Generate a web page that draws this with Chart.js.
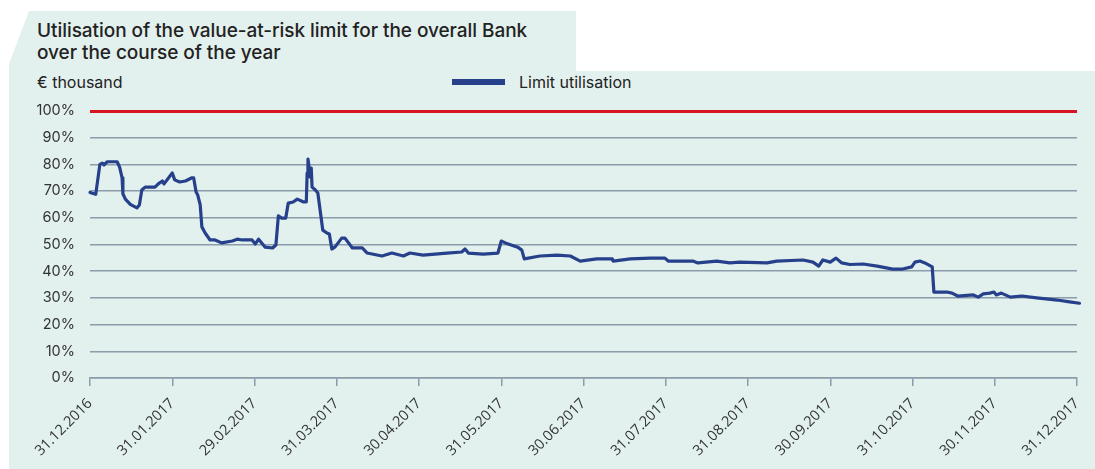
<!DOCTYPE html>
<html>
<head>
<meta charset="utf-8">
<script src="https://cdn.jsdelivr.net/npm/chart.js@4.4.0/dist/chart.umd.min.js"></script>
<style>
  html, body { margin: 0; padding: 0; background: #fff; }
  #wrap { position: relative; width: 1095px; height: 469px; overflow: hidden; font-family: Inter, "Noto Sans", sans-serif; color: #222; }
  #bg { position: absolute; left: 0; top: 0; }
  #title { position: absolute; left: 37px; top: 20px; font-size: 19px; font-weight: 500; line-height: 22px; letter-spacing: -0.05px; }
  #unit { position: absolute; left: 37px; top: 72px; font-size: 16px; }
  #legend { position: absolute; left: 452px; top: 72px; font-size: 16px; display: flex; align-items: center; }
  #legend .swatch { width: 53px; height: 6px; background: #27408b; margin-right: 14px; }
  canvas { position: absolute; left: 0; top: 0; }
</style>
</head>
<body>
<div id="wrap">
  <svg id="bg" width="1095" height="469">
    <polygon points="29,11 576,11 576,71 1095,71 1095,469 9,469 9,64" fill="#e2f1ee"/>
  </svg>
  <div id="title">Utilisation of the value-at-risk limit for the overall Bank<br>over the course of the year</div>
  <div id="unit">€ thousand</div>
  <div id="legend"><span class="swatch"></span><span>Limit utilisation</span></div>
  <canvas id="chart" width="1095" height="469"></canvas>
</div>
<script>
// month-end tick labels, one per month step on the x axis
const tickLabels = ['31.12.2016', '31.01.2017', '29.02.2017', '31.03.2017', '30.04.2017', '31.05.2017',
  '30.06.2017', '31.07.2017', '31.08.2017', '30.09.2017', '31.10.2017', '30.11.2017', '31.12.2017'];

// position in months after 31.12.2016
const monthPos = [
  0.00, 0.07, 0.12, 0.15, 0.17, 0.21, 0.33, 0.36, 0.39, 0.40, 0.43, 0.49, 0.57, 0.60, 0.63, 0.67,
  0.79, 0.83, 0.88, 0.90, 1.00, 1.03, 1.09, 1.16, 1.24, 1.26, 1.29, 1.31, 1.34, 1.36, 1.40, 1.46,
  1.52, 1.60, 1.73, 1.79, 1.85, 1.97, 2.01, 2.05, 2.13, 2.22, 2.26, 2.29, 2.33, 2.38, 2.41, 2.47,
  2.52, 2.59, 2.63, 2.64, 2.65, 2.66, 2.67, 2.69, 2.70, 2.74, 2.77, 2.83, 2.88, 2.91, 2.94, 2.98,
  3.06, 3.10, 3.19, 3.31, 3.37, 3.55, 3.67, 3.81, 3.89, 4.05, 4.34, 4.52, 4.56, 4.60, 4.78, 4.96,
  5.00, 5.05, 5.20, 5.25, 5.28, 5.47, 5.68, 5.84, 5.96, 6.16, 6.35, 6.36, 6.57, 6.81, 6.99, 7.03,
  7.33, 7.39, 7.62, 7.78, 7.90, 8.23, 8.35, 8.67, 8.79, 8.86, 8.91, 9.00, 9.07, 9.14, 9.24, 9.40,
  9.57, 9.76, 9.88, 9.99, 10.03, 10.09, 10.15, 10.24, 10.26, 10.42, 10.48, 10.55, 10.74, 10.80, 10.86, 10.94,
  10.99, 11.02, 11.08, 11.19, 11.33, 11.51, 11.76, 11.91, 12.03
];

// limit utilisation in %
const utilisation = [
  69.5, 68.8, 80.0, 80.5, 79.8, 81.0, 81.0, 79.0, 75.0, 69.0, 67.0, 65.0, 63.7, 64.8, 70.4, 71.5,
  71.5, 72.7, 73.8, 72.7, 76.8, 74.2, 73.4, 73.8, 75.0, 75.0, 69.7, 68.5, 64.8, 56.6, 54.3, 51.7,
  51.7, 50.6, 51.3, 52.0, 51.7, 51.7, 50.2, 52.0, 49.0, 48.7, 49.8, 60.7, 59.9, 59.9, 65.5, 65.9,
  67.0, 66.0, 66.0, 76.8, 82.0, 79.8, 75.3, 78.6, 71.5, 70.4, 69.3, 55.4, 54.3, 53.9, 48.3, 49.1,
  52.4, 52.4, 48.7, 48.7, 46.8, 45.7, 46.8, 45.7, 46.8, 46.0, 46.8, 47.2, 48.3, 46.8, 46.4, 46.8,
  51.3, 50.6, 49.0, 47.9, 44.6, 45.7, 46.0, 45.7, 43.8, 44.6, 44.6, 43.8, 44.6, 44.9, 44.9, 43.8,
  43.8, 43.1, 43.8, 43.1, 43.4, 43.1, 43.8, 44.2, 43.4, 41.9, 44.2, 43.4, 44.9, 43.1, 42.5, 42.7,
  41.9, 40.8, 40.8, 41.6, 43.4, 43.8, 43.1, 41.6, 32.2, 32.2, 31.8, 30.7, 31.1, 30.3, 31.5, 31.8,
  32.2, 31.1, 31.8, 30.3, 30.7, 30.0, 29.2, 28.5, 28.0
];

const limit = 100;

const points = monthPos.map((m, i) => ({ x: m, y: utilisation[i] }));

const ctx = document.getElementById('chart').getContext('2d');
const chart = new Chart(ctx, {
  type: 'line',
  data: {
    datasets: [{
      label: 'Limit utilisation',
      data: points,
      borderColor: '#27408b',
      borderWidth: 3.2,
      borderJoinStyle: 'round',
      borderCapStyle: 'round',
      pointRadius: 0,
      tension: 0,
      clip: false
    }]
  },
  options: {
    responsive: false,
    animation: false,
    devicePixelRatio: 1,
    layout: { padding: { top: 111, right: 18, left: 0, bottom: 0 } },
    plugins: { legend: { display: false }, tooltip: { enabled: false } },
    scales: {
      x: {
        type: 'linear',
        min: 0,
        max: tickLabels.length - 1,
        ticks: {
          stepSize: 1,
          autoSkip: false,
          minRotation: 45,
          maxRotation: 45,
          padding: 9,
          color: '#333',
          font: { family: '"Open Sans", sans-serif', size: 14.5 },
          callback: v => tickLabels[v]
        },
        grid: { drawOnChartArea: false, color: '#8b9cab', lineWidth: 1.5, tickLength: 8 },
        border: { color: '#8b9cab', width: 1.5 },
        afterFit: s => { s.height = 91; s.paddingRight = 0; s.paddingLeft = 0; }
      },
      y: {
        min: 0,
        max: limit,
        ticks: {
          stepSize: 10,
          padding: 15,
          color: '#333',
          font: { family: 'Inter, sans-serif', size: 14.5 },
          callback: v => v + '%'
        },
        grid: {
          drawTicks: false,
          color: c => c.tick.value === limit ? '#d7141f' : '#8b9cab',
          lineWidth: c => c.tick.value === limit ? 3 : 1.5
        },
        border: { display: false },
        afterFit: s => { s.width = 90; }
      }
    }
  }
});
</script>
</body>
</html>
